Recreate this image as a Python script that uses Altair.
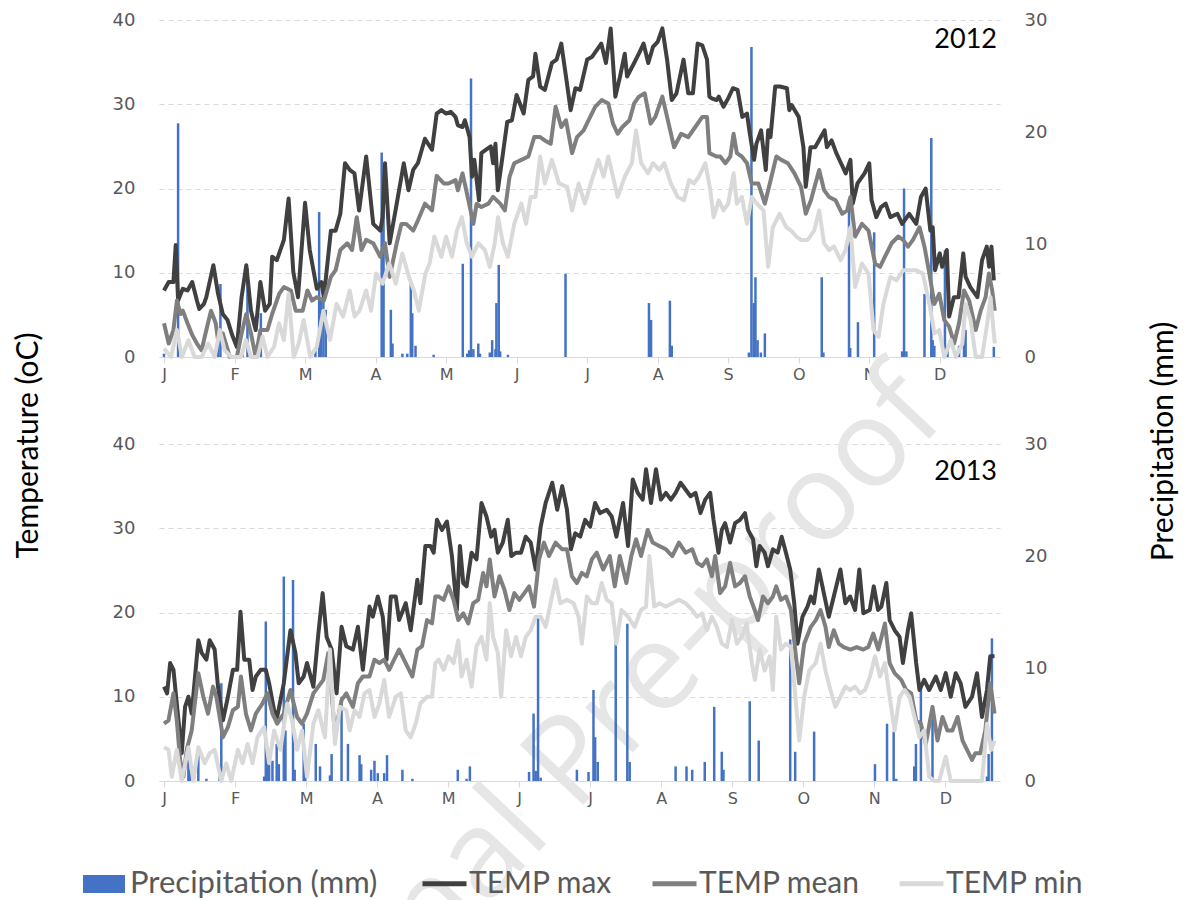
import json
import altair as alt
import pandas as pd

# ---------------------------------------------------------------------------
# Daily weather series, day index counted from 1 January (x axis), values
# in °C for temperatures and mm for precipitation.
# ---------------------------------------------------------------------------

# ----- 2012 -----
max12_day = [0, 2, 4, 5, 6, 8, 10, 12, 14, 15, 17, 18, 21, 23, 25, 27, 29, 31, 33, 35, 37, 39, 41, 43, 45, 46, 48, 51, 53, 55,
             57, 60, 62, 65, 67, 68, 71, 73, 75, 77, 79, 81, 83, 86, 89, 92, 93, 94, 96, 99, 102, 104, 106, 108, 111, 114, 116,
             118, 120, 122, 124, 125, 127, 128, 130, 131, 132, 134, 135, 137, 139, 140, 141, 142, 144, 146, 148, 150, 153, 155,
             157, 158, 160, 162, 165, 167, 169, 171, 173, 175, 177, 180, 182, 184, 186, 188, 190, 192, 194, 196, 197, 200, 202,
             204, 206, 208, 210, 212, 214, 216, 218, 221, 223, 225, 227, 229, 231, 232, 233, 235, 236, 238, 240, 242, 244, 245,
             246, 248, 249, 251, 252, 254, 256, 257, 258, 260, 262, 265, 266, 267, 270, 272, 273, 275, 277, 279, 281, 282, 284,
             286, 288, 290, 292, 293, 295, 298, 300, 301, 303, 305, 307, 309, 312, 314, 317, 320, 322, 324, 326, 327, 328, 330,
             331, 333, 334, 336, 338, 340, 341, 343, 346, 348, 350, 351, 352, 353]
max12_val = [7.9, 8.9, 8.9, 13.3, 6.7, 8.1, 7.9, 8.9, 6.7, 5.7, 6.3, 7.1, 10.9, 7.5, 5.1, 4.4, 2.6, 1.2, 7.1, 10.9, 5.5, 3.2, 8.9,
             5.5, 6.3, 11.9, 11.5, 13.9, 18.8, 10.1, 7.1, 18.3, 12.7, 8.1, 8.9, 7.1, 15.0, 15.0, 17.0, 23.0, 22.2, 21.8, 17.4,
             23.8, 15.8, 15.0, 16.6, 23.0, 13.5, 18.2, 23.0, 19.8, 22.2, 23.0, 25.9, 24.6, 28.9, 29.3, 28.9, 29.1, 28.5, 27.5,
             27.3, 28.1, 26.1, 21.4, 23.4, 18.6, 24.2, 24.6, 25.0, 23.0, 25.3, 19.8, 23.8, 27.9, 28.1, 31.1, 28.9, 32.9, 33.3,
             36.0, 32.1, 31.7, 34.9, 35.3, 37.2, 33.3, 29.3, 31.9, 31.7, 35.3, 35.6, 36.4, 37.2, 34.9, 39.0, 30.9, 33.3, 36.0,
             33.3, 34.9, 36.0, 37.2, 34.9, 36.8, 37.4, 39.0, 35.3, 30.5, 31.3, 35.3, 31.3, 31.3, 37.2, 37.0, 35.3, 30.9, 30.7,
             30.5, 30.9, 29.7, 30.7, 31.9, 31.7, 30.1, 28.5, 28.9, 26.9, 23.4, 25.3, 26.9, 22.2, 26.9, 26.1, 32.1, 32.1, 31.9,
             29.3, 29.9, 28.5, 24.9, 20.2, 24.9, 24.9, 25.9, 26.9, 24.9, 25.7, 24.2, 23.0, 21.8, 23.4, 18.2, 20.6, 21.8, 23.0,
             18.6, 16.6, 17.8, 18.2, 16.6, 17.0, 15.8, 17.0, 15.8, 19.0, 20.0, 15.0, 15.4, 10.3, 12.3, 10.7, 12.7, 4.8, 7.1, 7.1,
             12.3, 9.5, 8.3, 7.1, 11.5, 13.1, 10.7, 13.1, 9.1]

mean12_day = [0, 2, 4, 5.5, 7, 8, 10, 12, 14, 16, 18, 20, 22, 23, 25, 28, 31, 33, 35, 37, 39, 41, 44, 46, 49, 51, 54, 56, 59, 61,
              63, 65, 68, 71, 73, 75, 78, 80, 82, 84, 86, 89, 92, 94, 96, 99, 101, 103, 106, 108, 111, 114, 116, 119, 121, 124,
              125, 127, 129.5, 131.6, 133, 135, 138, 140, 143, 145, 147, 149, 152, 155, 157.5, 160, 162, 164.5, 166.6, 169, 171,
              173.6, 175.7, 178.5, 181.3, 183.4, 186.2, 189, 191, 193, 195, 198, 200, 202, 204.5, 207, 209, 212, 214, 217, 220,
              223, 226, 229, 231, 232, 235, 236.6, 238.8, 240.9, 242.3, 243.7, 245.8, 248, 250, 252.8, 255.6, 258.4, 260.5,
              262.6, 265.4, 268.2, 271, 273, 275.2, 278.7, 280.8, 282.9, 285.7, 288.5, 290.6, 292, 294, 296.9, 299.7, 302.5,
              304.6, 306.7, 309.5, 312.3, 314.4, 316.5, 318.6, 321.4, 323.5, 325.6, 327.7, 329.8, 331.9, 334, 336.1, 338.2,
              340.3, 342.5, 345.3, 347.4, 349.5, 350.9, 352.3, 353.4]
mean12_val = [4.0, 1.6, 3.2, 6.7, 5.1, 5.5, 4.0, 2.6, 1.6, 0.8, 3.2, 5.5, 4.0, 2.0, 2.8, 0.0, 0.0, 2.8, 5.1, 2.8, 0.0, 3.2, 3.2,
              5.1, 7.5, 8.3, 7.9, 5.5, 5.5, 7.9, 6.7, 7.1, 6.7, 9.5, 10.3, 12.7, 13.5, 12.7, 16.6, 12.7, 13.9, 13.5, 11.9, 13.5,
              9.5, 13.5, 15.8, 15.8, 15.0, 16.2, 18.2, 17.4, 21.5, 20.6, 20.6, 21.0, 19.8, 21.8, 18.6, 15.8, 18.2, 17.8, 18.2,
              19.0, 18.2, 17.4, 21.4, 23.0, 23.4, 23.8, 26.1, 26.1, 25.7, 25.3, 29.7, 27.3, 28.1, 24.2, 26.1, 26.9, 28.5, 29.7,
              30.5, 30.1, 27.7, 26.5, 27.3, 28.1, 30.1, 30.9, 31.3, 27.7, 28.5, 30.9, 28.5, 24.9, 26.5, 26.1, 27.3, 28.5, 28.5,
              24.2, 23.8, 23.8, 23.0, 23.8, 26.5, 24.2, 23.8, 23.0, 20.6, 20.6, 18.2, 21.4, 23.8, 23.4, 23.0, 21.8, 20.2, 17.0,
              18.6, 22.2, 19.8, 19.0, 18.6, 17.0, 17.4, 19.0, 14.3, 15.8, 15.0, 11.1, 10.7, 11.9, 13.5, 14.3, 13.9, 13.1, 13.9,
              15.4, 13.1, 9.9, 6.3, 7.5, 4.4, 3.6, 1.6, 4.0, 7.9, 6.7, 3.2, 5.5, 7.1, 9.9, 7.9, 5.5]

min12_day = [0, 3, 5.5, 7.6, 10.4, 13, 16, 18.8, 21.6, 23.7, 25.8, 28.6, 32.8, 34.9, 37, 39.8, 41.9, 44, 46.8, 48.9, 51, 53,
             55.2, 57.3, 59.4, 62.2, 65, 67.8, 70.6, 73.4, 76.2, 79, 81.1, 83.2, 86, 88.1, 90.2, 93, 95.8, 98.6, 101.4, 104.2,
             106.3, 108.4, 111.2, 113, 115, 116, 118, 120, 122.5, 124.6, 126.7, 128.8, 131, 133.7, 136.5, 138.6, 140.7, 142.1,
             144.2, 146.3, 149, 152, 154, 156, 158, 160, 162, 165, 168, 171.5, 173.6, 176.4, 179, 182, 184.8, 187, 189, 191, 193,
             196, 199, 200.8, 203, 205.9, 208, 210.7, 212.8, 215.6, 218.5, 221.2, 223.4, 225.4, 227.5, 230.3, 232.4, 233.8, 236,
             238, 240, 242.3, 243.7, 245.8, 248, 250, 252.2, 255, 257, 259, 261.9, 264.7, 266.8, 269, 271, 273.8, 276.6, 278.7,
             280.8, 282.9, 285, 287.8, 289.9, 292, 294, 296.9, 299.7, 301.8, 304, 306, 309, 311.6, 314.4, 317, 320, 322.8,
             325.6, 327.7, 329.8, 331.9, 334.7, 336.8, 339.6, 341, 343.1, 345.3, 348, 350.2, 351.6, 353.4]
min12_val = [1.0, 0.0, 3.2, 0.0, 2.0, 0.0, 0.0, 1.6, 0.0, 3.2, 0.8, 0.0, 0.0, 2.0, 0.0, 0.0, 2.4, 0.0, 1.2, 4.0, 2.0, 7.5, 0.0,
             1.6, 4.4, 0.0, 1.2, 5.5, 2.0, 6.3, 4.8, 7.9, 4.8, 5.5, 7.9, 5.5, 9.9, 8.7, 11.1, 8.7, 12.3, 9.5, 7.9, 5.5, 9.9, 11.1,
             14.3, 13.5, 11.9, 14.3, 11.9, 15.0, 16.6, 13.5, 11.9, 13.5, 12.7, 10.7, 13.5, 16.6, 13.5, 11.9, 15.8, 18.2, 15.8,
             19.0, 19.0, 23.8, 20.6, 23.4, 20.6, 20.2, 17.4, 20.6, 18.2, 21.0, 23.4, 21.4, 23.8, 21.4, 19.0, 21.4, 23.0, 26.9,
             23.0, 21.8, 23.0, 22.2, 23.0, 20.6, 19.0, 18.6, 21.0, 20.6, 21.4, 23.0, 19.8, 16.6, 18.6, 17.4, 18.2, 21.8, 18.2,
             19.0, 15.8, 19.0, 18.2, 17.4, 10.7, 15.4, 17.0, 15.4, 15.0, 14.3, 13.9, 13.9, 15.0, 17.4, 13.5, 12.7, 13.1, 11.5,
             12.7, 15.4, 8.3, 11.1, 9.9, 3.2, 2.4, 6.3, 9.5, 9.1, 10.3, 10.3, 10.3, 9.9, 6.3, 2.8, 3.2, 0.0, 2.0, 0.0, 1.6, 6.3,
             4.4, 0.0, 0.0, 4.0, 7.1, 1.6]

rain12_day = [0, 6, 23, 24, 33.5, 35.5, 41.2, 55.2, 64.4, 66, 66.7, 67.8, 68.8, 92.6, 93.4, 96.5, 97.2, 101.4, 103.5, 105,
              105.6, 107, 114.7, 127.1, 129, 129.8, 130.6, 131.6, 133.7, 134.4, 138.6, 139.6, 141, 141.4, 142.4, 143, 146.3,
              170.8, 206.3, 207.2, 215.2, 216, 248.8, 249.9, 250.9, 251.6, 252.5, 253.9, 255.6, 279.8, 280.5, 291.4, 291.9,
              295.2, 302.1, 314, 314.8, 315.8, 323.5, 326.4, 327, 327.7, 332.2, 333.3, 338.2, 340.3, 341, 353]
rain12_mm = [0.3, 20.8, 1.2, 6.5, 0.6, 7.9, 3.9, 0.3, 0.7, 12.9, 5.3, 5.9, 4.2, 18.2, 16.5, 4.2, 1.2, 0.3, 0.3, 6.5,
             3.9, 1.0, 0.2, 8.3, 0.3, 0.6, 24.8, 0.7, 1.2, 0.3, 0.4, 1.5, 0.7, 4.8, 8.2, 0.5, 0.2,
             7.4, 4.8, 3.3, 5.0, 1.0, 0.4, 27.6, 4.8, 7.1, 1.5, 0.4, 2.1, 7.1, 0.4, 14.0, 0.8,
             3.1, 11.1, 0.5, 15.0, 0.5, 5.6, 19.5, 1.5, 1.0, 9.5, 1.0, 1.0, 3.3, 2.4, 0.9]

# ----- 2013 -----
max13_day = [0, 1.3, 2.6, 4, 5.4, 7.5, 8.9, 10.3, 11.7, 14.5, 15.9, 17.9, 19.3, 21.4, 22.8, 24.9, 27, 29.1, 30.9, 32.3, 33.9,
             36, 37.4, 38.8, 40.9, 43, 44.4, 46.5, 47.8, 50.6, 53.4, 55.5, 56.9, 59, 60.4, 63.1, 65.2, 67, 68.7, 70.8, 72.9, 75,
             77, 79.8, 81.9, 84, 86.8, 88.2, 90.3, 92.4, 94, 95.8, 97.9, 99.3, 102.1, 104.2, 107, 108.3, 110.4, 112.5, 113.9,
             115.3, 117.4, 119.5, 121.6, 123.7, 125, 126.4, 127.8, 129.9, 132, 134.1, 136.2, 138.2, 139.6, 141, 143.1, 145.2,
             146.7, 148.7, 150.8, 152.8, 154.9, 157, 159.1, 161.2, 164, 166.1, 168.2, 170.2, 171.9, 173.7, 175.8, 177.9, 180,
             182.1, 184.2, 187, 189.1, 191.1, 193.9, 196, 198, 200.1, 202.2, 203.6, 205.7, 207.8, 209.9, 212, 214.1, 216.1,
             218.2, 220.3, 222.4, 224.5, 226.6, 228.6, 230.7, 232.1, 234.2, 235.6, 237, 239.1, 241.2, 243.3, 245.4, 246.7,
             248.8, 250.2, 251.6, 253.7, 255.1, 257.2, 259.2, 260.9, 262.7, 264.5, 266.2, 267.6, 269.7, 271.8, 273.2, 274.5,
             276.6, 278.7, 280.8, 282.9, 285.7, 287.8, 289.8, 291.9, 293.7, 295.4, 298.1, 299.8, 301.6, 303, 305.1, 306.5,
             308.6, 310.7, 312.1, 314.2, 315.6, 317.7, 319.1, 321.1, 323.2, 326, 328.1, 330.2, 332.3, 334.4, 336.5, 338.5,
             341.3, 343.4, 345.5, 347.6, 349, 350.8]
max13_val = [11.2, 10.4, 14.0, 13.2, 9.2, 3.3, 8.8, 10.0, 8.0, 16.7, 15.2, 14.4, 16.7, 15.6, 11.2, 7.2, 10.0, 13.2, 13.2, 20.1,
             14.4, 14.4, 10.8, 12.4, 13.2, 13.2, 11.6, 8.4, 7.6, 11.6, 17.9, 15.2, 11.6, 12.4, 14.0, 11.2, 17.5, 22.3, 17.1, 15.6,
             10.4, 18.3, 16.0, 15.6, 18.3, 13.2, 20.7, 19.5, 21.9, 19.5, 14.4, 21.9, 21.9, 19.1, 21.1, 17.9, 23.9, 21.1, 27.9,
             27.9, 27.1, 31.0, 29.8, 30.8, 26.7, 20.3, 27.9, 23.5, 23.1, 27.1, 26.3, 33.0, 31.4, 29.0, 29.8, 27.1, 28.3, 31.0,
             26.7, 27.1, 27.1, 29.0, 28.3, 25.1, 30.2, 33.0, 35.4, 32.2, 35.0, 32.2, 27.5, 29.4, 29.0, 31.0, 30.2, 33.0, 31.8,
             32.2, 31.4, 29.0, 33.0, 27.9, 35.8, 34.2, 33.4, 37.0, 33.0, 37.0, 33.4, 34.2, 33.4, 34.2, 35.4, 34.6, 33.8, 34.2,
             31.8, 33.4, 34.2, 31.0, 27.1, 29.8, 30.6, 28.3, 30.6, 31.0, 31.8, 29.8, 28.7, 25.5, 27.9, 27.1, 25.5, 27.5, 27.1,
             29.0, 27.1, 25.1, 21.1, 16.3, 19.5, 20.7, 21.9, 21.1, 25.1, 22.3, 19.5, 21.9, 25.1, 21.1, 21.9, 20.3, 25.1, 19.9,
             20.3, 23.1, 20.3, 20.7, 23.5, 19.1, 17.9, 17.1, 14.0, 17.9, 19.9, 14.0, 10.8, 12.0, 10.8, 12.4, 10.8, 12.8, 10.0,
             12.8, 11.6, 8.8, 10.0, 12.8, 7.6, 10.8, 14.8, 14.8]

mean13_day = [0, 1.9, 4, 5.4, 6.8, 8.2, 9.6, 11.7, 14.5, 16.6, 18.6, 20.7, 22.1, 24.9, 27, 29.1, 31.2, 32.5, 34.6, 36.7, 38.8,
              41.6, 43.7, 45.8, 47.8, 50.6, 53.4, 56.2, 58.3, 60.4, 63.1, 65.2, 67.3, 69.4, 72.2, 75, 77, 79.8, 81.9, 84, 86.8,
              88.9, 91, 93, 95.1, 97.2, 99.3, 102.1, 104.9, 107, 109, 111.1, 113.2, 114.6, 116, 118.1, 120.2, 122.3, 124.3,
              126.4, 128.5, 130.6, 132.7, 134.8, 136.2, 137.6, 139.6, 141.7, 143.8, 145.9, 148, 150.1, 152.2, 154.2, 156.3,
              158.4, 160.5, 162.6, 165.4, 168.2, 170.2, 172.3, 174.4, 176.5, 178.6, 180.7, 182.8, 185.5, 188.3, 190.4, 192.5,
              195.3, 197.4, 199.4, 201.5, 204.3, 206.4, 209.2, 212, 214.7, 217.5, 220.3, 223.1, 225.2, 227.3, 229.3, 231.4,
              232.8, 234.9, 237, 239.1, 241.2, 243.3, 245.4, 247.4, 249.5, 250.9, 253, 255.1, 257.2, 258.6, 260.6, 262.7,
              264.8, 266.9, 268.3, 270.4, 273.2, 275.3, 277.3, 279.4, 280.8, 282.9, 285, 287.1, 289.9, 292.6, 295.4, 297.5,
              299.6, 301.7, 304.5, 306.5, 308.6, 311.4, 313.5, 315.6, 317.7, 319.7, 321.8, 324.6, 326.7, 328.8, 330.9, 333,
              335.2, 337.3, 339.2, 341.3, 342.7, 344.8, 346.9, 349, 350.8]
mean13_val = [6.8, 7.2, 10.4, 7.2, 2.5, 0.5, 3.7, 6.0, 12.8, 10.0, 8.0, 11.2, 10.0, 5.2, 6.4, 8.4, 8.8, 12.4, 8.0, 6.0, 8.0,
              9.2, 10.4, 8.0, 6.8, 8.0, 10.8, 7.6, 6.8, 8.0, 10.4, 11.2, 12.0, 15.2, 5.6, 9.6, 10.4, 8.8, 11.6, 12.4, 12.4,
              14.4, 14.0, 14.4, 13.2, 14.4, 15.6, 14.0, 12.4, 15.6, 16.0, 19.1, 18.7, 21.9, 21.9, 21.5, 23.1, 21.5, 19.1,
              19.9, 18.7, 21.1, 21.5, 24.7, 23.1, 26.3, 21.9, 24.3, 22.7, 20.3, 22.3, 21.5, 22.3, 23.1, 20.7, 26.3, 28.3,
              26.7, 28.3, 27.5, 27.5, 24.3, 23.5, 24.7, 24.3, 26.3, 27.1, 25.1, 26.7, 23.1, 26.7, 23.5, 26.7, 28.7, 26.7,
              29.8, 28.3, 27.9, 27.5, 26.7, 28.3, 27.1, 27.5, 25.9, 25.5, 26.3, 24.3, 26.7, 22.3, 23.1, 25.9, 23.1, 23.5,
              24.3, 21.9, 20.3, 19.1, 21.9, 21.1, 21.9, 23.1, 21.5, 21.9, 20.3, 14.8, 11.6, 16.3, 18.3, 19.1, 20.3, 18.3,
              15.9, 17.9, 16.3, 15.9, 15.6, 15.9, 15.6, 15.9, 17.5, 15.6, 18.7, 14.0, 12.8, 12.0, 10.8, 10.4, 7.2, 6.8, 4.4,
              8.8, 4.8, 7.6, 6.0, 6.0, 7.6, 4.8, 3.7, 2.5, 3.3, 3.3, 6.0, 11.6, 8.0]

min13_day = [0, 1.9, 3.3, 5.4, 7.5, 10.3, 12.4, 14.5, 17.2, 19.3, 21.4, 24.2, 26.3, 28.4, 31.2, 33.2, 35.3, 37.4, 39.5, 42.3,
             44.4, 46.5, 49.2, 52, 54.1, 56.2, 58.3, 60.4, 63.1, 65.2, 68, 70.1, 72.2, 74.3, 77, 78.4, 80.5, 82.6, 84.7, 86.8,
             88.9, 91, 93, 95.1, 97.9, 100, 102.1, 104.2, 106.3, 108.3, 111.1, 113.2, 114.6, 116, 118.1, 120.2, 122.3, 124.3,
             125.7, 127.8, 129.9, 132, 134.1, 136.2, 137.6, 139, 141, 142.4, 144.5, 146.6, 148.7, 150.8, 152.8, 154.9, 157,
             159.1, 161.2, 163.3, 165.4, 167.4, 170.2, 173, 175.1, 176.5, 178.6, 180.7, 182.8, 184.9, 187, 189.1, 191.1, 193.2,
             196, 198.8, 201.5, 203.6, 205, 207.1, 209.2, 212, 214.7, 217.5, 220.3, 223.1, 225.2, 227.3, 229.3, 231.4, 233.5,
             235.6, 237.8, 239.9, 242, 244, 246.1, 248.3, 249.6, 251.6, 253.7, 255.8, 257.2, 258.6, 260.6, 262.7, 264.8, 266.2,
             268.3, 270.4, 272.5, 275.3, 277.3, 279.4, 281.5, 283.6, 285.7, 287.8, 289.8, 291.9, 294, 296.1, 298.2, 300.3,
             302.4, 304.5, 306.5, 308.6, 310.7, 312.8, 314.9, 317, 319.1, 321.1, 323.2, 325.3, 327.4, 330.2, 332.3, 334.4, 340,
             345.5, 347.6, 349.4, 350.8]
min13_val = [4.0, 3.7, 0.5, 3.7, 0.0, 4.0, 0.0, 4.0, 2.1, 3.3, 3.7, 0.0, 2.1, 0.0, 3.7, 2.1, 4.4, 2.1, 5.2, 6.4, 2.1, 6.0, 3.7,
             9.2, 7.2, 3.7, 6.0, 0.5, 6.8, 8.4, 5.2, 15.6, 4.4, 8.8, 8.4, 6.0, 8.4, 7.6, 10.4, 10.8, 7.6, 9.2, 12.0, 7.6, 10.0,
             10.4, 6.0, 5.2, 6.8, 9.2, 10.0, 10.0, 14.0, 14.4, 13.2, 14.8, 14.0, 16.7, 12.4, 14.4, 11.2, 16.0, 17.1, 14.4, 21.1,
             17.1, 15.2, 10.0, 17.9, 14.8, 17.1, 14.8, 17.1, 17.9, 19.5, 19.5, 18.3, 21.1, 23.9, 21.1, 21.5, 21.1, 19.5, 16.3,
             21.9, 21.1, 21.1, 23.5, 21.5, 21.1, 16.3, 20.3, 19.5, 18.3, 20.3, 20.7, 26.7, 20.7, 21.1, 20.7, 21.1, 21.5, 21.1,
             20.3, 19.5, 19.9, 17.9, 19.5, 18.3, 16.3, 15.9, 19.1, 16.3, 17.1, 18.7, 14.0, 12.0, 15.6, 13.1, 14.8, 10.8, 19.5,
             15.6, 16.3, 15.9, 11.6, 4.8, 10.0, 13.1, 14.0, 16.3, 13.1, 10.8, 8.8, 10.0, 11.2, 10.8, 11.2, 10.4, 10.8, 12.4,
             14.8, 12.4, 14.0, 10.0, 6.0, 10.0, 10.8, 10.0, 7.6, 5.2, 6.0, 0.5, 0.0, 0.0, 2.9, 0.0, 0.0, 0.0, 0.0, 6.8, 3.7, 4.8]

rain13_day = [10.3, 11, 14.5, 17.9, 23.5, 24.2, 42.3, 43, 43.7, 44.4, 45.8, 47.6, 48.5, 50.6, 51.3, 54.5, 55.2, 59, 59.7,
              64.1, 65.9, 70.1, 70.8, 75, 77.7, 82.6, 83.3, 87.5, 88.9, 90.3, 93, 94.2, 100.7, 104.9, 124.1, 127.8, 129.2,
              154.2, 156.1, 157, 158, 159.1, 174.4, 179.3, 181.4, 182.1, 183.2, 190.8, 195.7, 196.7, 216.1, 220.7, 223.1,
              228.4, 232.4, 235.6, 236.3, 247.4, 251.2, 264.5, 266.6, 274.6, 300.3, 305.4, 308.2, 309.3, 316.9, 317.6,
              319.7, 324.6, 347.6, 348.3, 349.7]
rain13_mm = [2.7, 1.0, 2.7, 0.2, 1.3, 8.7, 0.4, 14.2, 1.8, 1.5, 1.8, 3.3, 1.5, 18.2, 4.5, 17.9, 1.0, 5.1, 1.5,
             3.3, 1.3, 0.5, 2.4, 7.5, 3.3, 2.3, 1.5, 1.0, 1.8, 0.7, 0.7, 2.3, 1.0, 0.2, 1.0, 0.2, 1.3,
             0.8, 6.0, 0.9, 14.5, 0.3, 1.0, 0.8, 8.1, 3.9, 1.7, 12.6, 14.0, 1.7, 1.3, 1.3, 1.0,
             1.7, 6.6, 2.6, 1.0, 7.1, 3.6, 12.6, 2.6, 4.4, 1.5, 5.1, 4.4, 0.2, 1.3, 3.3,
             8.7, 6.6, 0.4, 2.4, 12.7]

YEARS = ["2012", "2013"]
X_END = [353.5, 351.0]          # last day shown on each panel's x axis
MONTH_TICKS = [0, 30, 60, 90, 120, 150, 180, 210, 240, 270, 300, 330]
MONTH_LABELS = ["J", "F", "M", "A", "M", "J", "J", "A", "S", "O", "N", "D"]

SERIES = ["TEMP max", "TEMP mean", "TEMP min"]
SERIES_COLORS = ["#404040", "#7f7f7f", "#d9d9d9"]
RAIN_NAME = "Precipitation (mm)"
RAIN_COLOR = "#4472C4"

WATERMARK = "Journal Pre-proof"

LABEL_FONT = "DejaVu Sans"
TEXT_FONT = "Lato"
GREY_TEXT = "#595959"

PANEL_W, PANEL_H = 841, 337


def temp_frame(parts):
    frames = [pd.DataFrame({"day": d, "temp": v, "series": name}) for name, d, v in parts]
    return pd.concat(frames, ignore_index=True)


temps = {
    "2012": temp_frame([("TEMP max", max12_day, max12_val),
                        ("TEMP mean", mean12_day, mean12_val),
                        ("TEMP min", min12_day, min12_val)]),
    "2013": temp_frame([("TEMP max", max13_day, max13_val),
                        ("TEMP mean", mean13_day, mean13_val),
                        ("TEMP min", min13_day, min13_val)]),
}
rains = {
    "2012": pd.DataFrame({"day": rain12_day, "mm": rain12_mm, "name": RAIN_NAME}),
    "2013": pd.DataFrame({"day": rain13_day, "mm": rain13_mm, "name": RAIN_NAME}),
}

month_expr = json.dumps(MONTH_LABELS) + "[round(datum.value / 30)]"

stroke_scale = alt.Scale(domain=SERIES, range=SERIES_COLORS)
fill_scale = alt.Scale(domain=[RAIN_NAME], range=[RAIN_COLOR])

stroke_legend = alt.Legend(
    title=None, orient="none", legendX=261, legendY=839, direction="horizontal",
    symbolType="stroke", symbolSize=1936, symbolStrokeWidth=5,
    labelFont=TEXT_FONT, labelFontSize=30, labelColor=GREY_TEXT,
    labelOffset=0, columnPadding=29, labelLimit=400,
)
fill_legend = alt.Legend(
    title=None, orient="none", legendX=-76, legendY=843, direction="horizontal",
    symbolType="M-1,-0.43H1V0.43H-1Z", symbolSize=1764, symbolStrokeWidth=0,
    labelFont=TEXT_FONT, labelFontSize=31, labelColor=GREY_TEXT,
    labelOffset=5, labelLimit=400,
)


def x_encoding(x_end):
    return alt.X(
        "day:Q",
        scale=alt.Scale(domain=[0, x_end], nice=False, zero=False),
        axis=alt.Axis(
            values=MONTH_TICKS, labelExpr=month_expr, title=None, grid=False,
            domainColor="#d9d9d9", tickColor="#d9d9d9", tickSize=6, labelPadding=3,
            labelFont=LABEL_FONT, labelFontSize=16, labelColor=GREY_TEXT,
        ),
    )


def panel(idx, with_titles):
    year = YEARS[idx]
    x = x_encoding(X_END[idx])

    temp_axis = dict(
        orient="left", values=[0, 10, 20, 30, 40], grid=True, gridDash=[5, 4],
        gridColor="#d9d9d9", domain=False, ticks=False, labelPadding=24,
        labelFont=LABEL_FONT, labelFontSize=18, labelColor=GREY_TEXT,
    )
    rain_axis = dict(
        orient="right", values=[0, 10, 20, 30], grid=False, domain=False, ticks=False,
        labelPadding=24, labelFont=LABEL_FONT, labelFontSize=18, labelColor=GREY_TEXT,
    )
    if with_titles:
        temp_axis.update(title="Temperature (oC)", titleX=-131, titleY=1, titleAngle=270,
                         titleAlign="center", titleBaseline="middle", titleFont=TEXT_FONT,
                         titleFontSize=30, titleFontWeight="normal", titleColor="#000000")
        rain_axis.update(title="Precipitation (mm)", titleX=163, titleY=-3, titleAngle=270,
                         titleAlign="center", titleBaseline="middle", titleFont=TEXT_FONT,
                         titleFontSize=30, titleFontWeight="normal", titleColor="#000000")
    else:
        temp_axis["title"] = None
        rain_axis["title"] = None

    bars = alt.Chart(rains[year]).mark_bar(size=2.5).encode(
        x=x,
        y=alt.Y("mm:Q", scale=alt.Scale(domain=[0, 30]), axis=alt.Axis(**rain_axis)),
        fill=alt.Fill("name:N", scale=fill_scale, legend=fill_legend),
    )

    temp_y = alt.Y("temp:Q", scale=alt.Scale(domain=[0, 40]), axis=alt.Axis(**temp_axis))
    line_layers = []
    for name in SERIES:
        line_layers.append(
            alt.Chart(temps[year]).transform_filter(alt.datum.series == name)
            .mark_line(strokeWidth=4, strokeJoin="round")
            .encode(
                x=x, y=temp_y,
                stroke=alt.Stroke("series:N", scale=stroke_scale, legend=stroke_legend),
            )
        )
    lines = alt.layer(*line_layers)

    year_text = alt.Chart(pd.DataFrame({"label": [year]})).mark_text(
        align="right", baseline="alphabetic", font=TEXT_FONT, fontSize=27, color="#000000",
    ).encode(
        x=alt.value(PANEL_W - 3),
        y=alt.value(28 if idx == 0 else 36),
        text="label:N",
    )

    layers = [bars, lines, year_text]
    if idx == 1:
        # faint diagonal stamp running across the lower panel, behind the data
        stamp = alt.Chart(pd.DataFrame({"t": [WATERMARK]})).mark_text(
            angle=313.4, font="Open Sans", fontSize=122, fontWeight=500, color="#e6e6e6",
            align="center", baseline="middle",
        ).encode(x=alt.value(426), y=alt.value(305), text="t:N")
        layers = [stamp] + layers

    return alt.layer(*layers).resolve_scale(y="independent").properties(
        width=PANEL_W, height=PANEL_H
    )


chart = alt.vconcat(panel(0, False), panel(1, True), spacing=87).resolve_scale(
    fill="shared", stroke="shared"
).properties(
    bounds="flush",
    padding={"left": 12, "top": 11, "right": 10, "bottom": 5},
    background="#ffffff",
).configure_view(stroke=None)

chart.save("out.html", embed_options={"renderer": "svg", "actions": False})
